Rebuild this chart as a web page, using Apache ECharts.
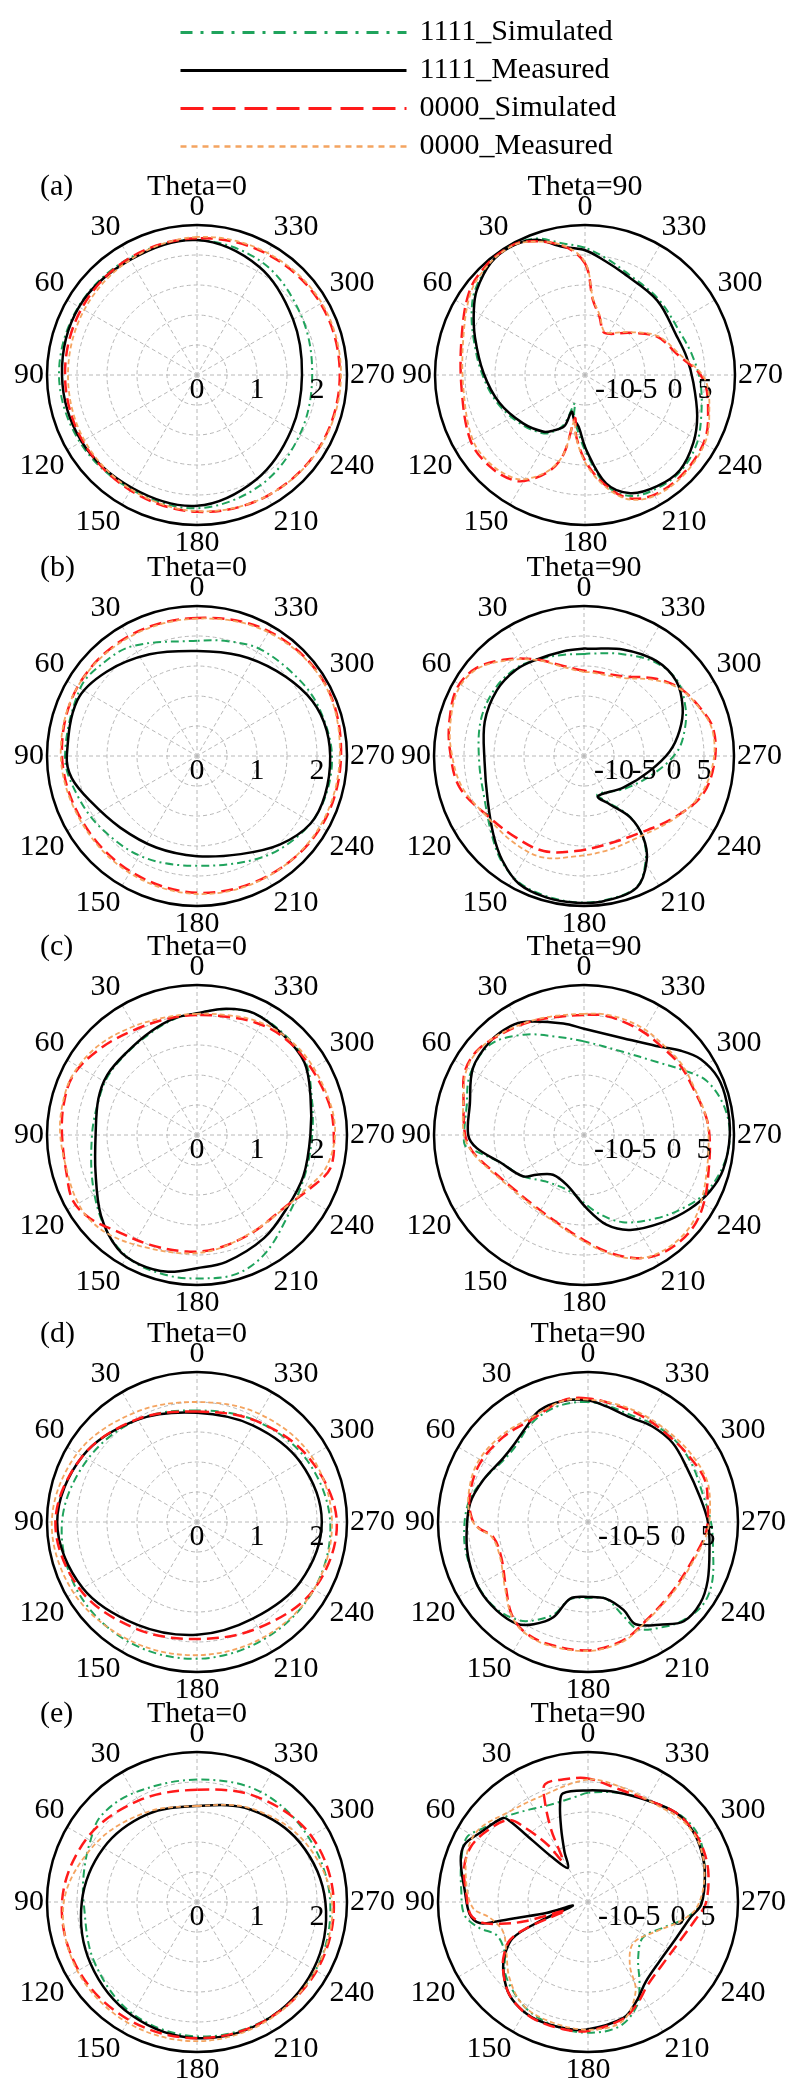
<!DOCTYPE html>
<html><head><meta charset="utf-8">
<script src="https://cdn.jsdelivr.net/npm/echarts@6/dist/echarts.min.js"></script>
<style>html,body{margin:0;padding:0;background:#fff}#c{width:792px;height:2085px}</style>
</head><body><div id="c"></div>
<script>
// ---------- labels ----------
const seriesNames = ['1111_Simulated', '1111_Measured', '0000_Simulated', '0000_Measured'];
const panelLetters = ['(a)', '(b)', '(c)', '(d)', '(e)'];
const thetaTitles = ['Theta=0', 'Theta=90'];
const angleTicks = [0, 30, 60, 90, 120, 150, 180, 210, 240, 270, 300, 330];
const leftRadiusLabels = [0, 1, 2];          // Theta=0 panels, linear scale 0..2.5
const rightRadiusLabels = [-10, -5, 0, 5];   // Theta=90 panels, dB scale -15..10

// ---------- data: [angle(deg), value] in drawing order (closed curves) ----------
// (a) Theta=0
const a0_sim1111 = [[0,2.25],[30,2.25],[60,2.28],[90,2.3],[120,2.25],[150,2.2],[180,2.22],[210,2.12],[240,1.98],[270,1.92],[300,2.0],[330,2.17]];
const a0_meas1111 = [[0,2.25],[30,2.22],[60,2.27],[90,2.25],[120,2.22],[150,2.17],[180,2.18],[210,2.0],[240,1.82],[270,1.75],[300,1.85],[330,2.08]];
const a0_sim0000 = [[0,2.28],[30,2.25],[60,2.22],[90,2.2],[120,2.2],[150,2.22],[180,2.28],[210,2.33],[240,2.37],[270,2.38],[300,2.38],[330,2.33]];
const a0_meas0000 = [[0,2.3],[30,2.22],[60,2.17],[90,2.15],[120,2.17],[150,2.2],[180,2.27],[210,2.33],[240,2.38],[270,2.4],[300,2.4],[330,2.35]];
// (a) Theta=90
const a90_sim1111 = [[0,6.2],[10,7.3],[20,9.2],[30,9.8],[40,9.5],[52,8.2],[60,6.8],[71,4.7],[89,2.2],[108,0.3],[128,-1.6],[144,-3.0],[150,-4.0],[157,-6],[160,-10],[165,-8],[173,-5.5],[181,-2],[191,3.8],[201,6.6],[213,7.4],[225,7.6],[238,6.9],[250,5.6],[266,4.3],[280,3.2],[293,2.4],[316,2.6],[339,3.5],[350,4.8]];
const a90_meas1111 = [[0,5.8],[10,6.7],[20,9.0],[30,9.7],[40,9.4],[52,7.9],[60,6.4],[71,4.4],[89,1.9],[108,0],[128,-1.9],[144,-3.3],[150,-4.3],[158,-5.8],[160,-8.5],[166,-7.4],[173,-6.3],[181,-2.5],[191,3.4],[201,6.1],[213,7.1],[225,7.4],[238,6.3],[250,4.9],[266,3.1],[280,2.2],[293,1.6],[316,2.3],[339,3.1],[350,4.3]];
const a90_sim0000 = [[0,3.6],[10,6.9],[25,9.5],[33,9.8],[42,9.6],[54,8.8],[73,6.5],[97,5.7],[120,7.0],[134,7.0],[146,6.2],[152,4.8],[160,1.9],[165,-1.5],[167,-7.6],[172,-4.6],[181,-0.3],[191,3.9],[200,6.9],[211,8.1],[225,8.2],[240,7.8],[251,6.7],[268,4.7],[283,0.7],[298,-1.4],[313,-4.7],[329,-7.0],[337,-7.2],[346,-5.0],[354,-2.4]];
const a90_meas0000 = [[0,3.8],[10,7.0],[25,9.4],[33,9.7],[42,9.4],[54,8.5],[73,6.2],[97,5.4],[120,6.6],[134,6.6],[146,5.8],[152,4.5],[160,1.7],[165,-1.5],[167,-7.2],[172,-4.4],[181,0],[191,4.2],[200,7.1],[211,8.3],[225,8.4],[240,8.0],[251,6.9],[268,5.0],[283,1.0],[298,-1.2],[313,-4.5],[329,-6.8],[337,-7.0],[346,-4.8],[354,-2.2]];
// (b) Theta=0
const b0_sim1111 = [[0,1.92],[30,2.12],[45,2.2],[60,2.25],[90,2.2],[108,2.1],[127,2.0],[152,1.91],[180,1.83],[212,2.0],[233,2.16],[250,2.24],[270,2.25],[290,2.19],[306,2.13],[329,2.07],[345,1.98]];
const b0_meas1111 = [[0,1.75],[25,1.87],[47,2.06],[65,2.2],[90,2.17],[100,2.12],[113,1.93],[133,1.75],[156,1.67],[180,1.67],[204,1.79],[223,2.02],[239,2.2],[253,2.23],[270,2.22],[285,2.19],[299,2.1],[317,1.94],[337,1.82]];
const b0_sim0000 = [[0,2.3],[30,2.3],[60,2.3],[90,2.25],[120,2.2],[150,2.22],[180,2.28],[210,2.32],[240,2.38],[270,2.4],[300,2.45],[330,2.4]];
const b0_meas0000 = [[0,2.29],[30,2.28],[60,2.3],[90,2.27],[120,2.22],[150,2.25],[180,2.3],[210,2.33],[240,2.36],[270,2.38],[300,2.44],[330,2.38]];
// (b) Theta=90
const b90_sim1111 = [[0,2.0],[11,2.2],[26,2.9],[38,3.5],[53,3.6],[71,3.2],[93,2.5],[115,3.2],[131,5.3],[142,7.3],[153,8.7],[165,9.2],[177,9.4],[188,9.3],[202,8.5],[211,5.0],[216,1.6],[217,-2.4],[208,-6.2],[199,-8.2],[231,-6.3],[257,-2.8],[273,0.6],[285,2.4],[296,3.8],[309,5.0],[323,4.6],[340,3.1],[357,2.1]];
const b90_meas1111 = [[0,2.9],[11,2.8],[26,2.9],[38,3.3],[53,3.2],[71,2.5],[93,1.6],[115,2.7],[131,5.0],[142,7.1],[153,8.9],[165,9.4],[177,9.5],[188,9.4],[202,8.6],[211,5.3],[216,1.8],[217,-2.2],[208,-5.9],[199,-7.9],[231,-6.6],[257,-3.8],[273,-0.7],[285,1.5],[296,3.3],[309,4.8],[323,4.9],[340,3.9],[357,2.9]];
const b90_sim0000 = [[0,-0.8],[13,0.4],[26,2.9],[39,5.7],[51,8.2],[62,9.0],[75,8.2],[87,7.4],[104,6.4],[123,3.8],[140,2.7],[157,2.2],[175,0.9],[194,0.2],[214,0.7],[235,3.1],[252,5.8],[268,6.8],[282,7.0],[293,5.9],[305,4.6],[317,2.6],[334,-0.2],[356,-0.8]];
const b90_meas0000 = [[0,-1.0],[13,0.2],[26,2.8],[39,5.5],[51,8.0],[62,8.7],[75,8.0],[87,7.2],[104,6.0],[123,4.0],[140,3.6],[157,3.3],[175,1.8],[194,1.2],[214,1.3],[235,3.3],[252,5.5],[268,6.6],[282,6.8],[293,5.8],[305,4.5],[317,2.3],[334,-0.5],[356,-1.0]];
// (c) Theta=0
const c0_sim1111 = [[0,2.03],[11,1.97],[24,1.87],[40,1.8],[56,1.78],[70,1.74],[90,1.75],[117,1.94],[137,2.2],[153,2.36],[168,2.39],[180,2.39],[195,2.41],[209,2.29],[227,2.04],[249,1.92],[270,1.92],[289,2.02],[304,2.18],[319,2.22],[335,2.24],[347,2.15]];
const c0_meas1111 = [[0,2.03],[11,1.98],[24,1.89],[40,1.81],[56,1.8],[70,1.75],[90,1.69],[110,1.8],[130,2.09],[145,2.31],[156,2.36],[168,2.33],[180,2.22],[193,2.17],[213,2.05],[231,1.93],[249,1.9],[270,1.89],[289,2.0],[304,2.16],[319,2.2],[335,2.24],[347,2.16]];
const c0_sim0000 = [[0,2.0],[15,2.0],[31,2.04],[48,2.16],[64,2.29],[77,2.28],[90,2.25],[107,2.27],[118,2.34],[128,2.26],[140,2.09],[157,1.99],[175,1.95],[190,1.92],[210,1.87],[230,1.89],[245,2.09],[256,2.29],[270,2.28],[284,2.26],[304,2.2],[320,2.17],[333,2.11],[346,2.03]];
const c0_meas0000 = [[0,2.02],[15,2.03],[31,2.1],[48,2.22],[64,2.3],[77,2.3],[90,2.28],[107,2.25],[118,2.28],[128,2.28],[140,2.2],[157,2.05],[175,1.98],[190,1.93],[210,1.86],[230,1.9],[245,2.05],[256,2.22],[270,2.3],[284,2.28],[304,2.24],[320,2.2],[333,2.14],[346,2.06]];
// (c) Theta=90
const c90_sim1111 = [[0,0.6],[15.5,2.0],[31,4.5],[46,6.7],[62,6.5],[77,5.1],[90,5.0],[95,4.9],[98,3.5],[108,-0.3],[124,-2.7],[141,-5.0],[166,-5.3],[189,-2.0],[204,0.9],[221,3.4],[234,5.6],[245,7.5],[258,8.8],[270,9.3],[282,8.8],[294,7.3],[303,4.8],[315,2.2],[335,0.3]];
const c90_meas1111 = [[0,2.7],[10.5,3.9],[27,6.2],[34,6.9],[45,7.1],[59,6.6],[75,4.7],[90,4.3],[97,3.0],[108,-0.3],[124,-2.7],[130,-4.7],[142,-6.6],[161,-6.2],[182,-2.8],[194,0.4],[206,2.6],[222,4.6],[235,6.5],[246,8.0],[256,8.9],[270,9.3],[283,9.4],[293,9.3],[303,8.2],[311,6.4],[321,4.1],[338,2.4]];
const c90_sim0000 = [[0,5.0],[13,5.2],[25.5,5.9],[40,6.8],[52,7.7],[62,7.5],[73,6.0],[90,4.8],[99,3.7],[110,1.6],[127,-0.2],[144,-0.6],[162,0.2],[178,2.2],[191,4.8],[202,7.1],[211,8.4],[222,8.9],[232,8.7],[242,7.8],[254,6.6],[267,6.0],[278,5.6],[293,4.8],[306,4.8],[318,4.6],[330,4.8],[341,5.0],[351,5.2]];
const c90_meas0000 = [[0,5.2],[13,5.4],[25.5,6.0],[40,6.9],[52,7.6],[62,7.3],[73,6.0],[90,5.0],[99,3.8],[110,1.8],[127,0],[144,-0.4],[162,0.4],[178,2.4],[191,5.0],[202,7.2],[211,8.2],[222,8.5],[232,8.2],[242,7.3],[254,6.3],[267,5.8],[278,5.6],[293,5.0],[306,5.1],[318,5.0],[330,5.3],[341,5.4],[351,5.4]];
// (d) Theta=0
const d0_sim1111 = [[0,1.86],[30,1.97],[60,2.1],[90,2.25],[120,2.3],[150,2.3],[180,2.28],[210,2.25],[240,2.25],[270,2.22],[300,2.1],[330,1.95]];
const d0_meas1111 = [[0,1.82],[30,1.97],[60,2.2],[90,2.33],[120,2.2],[150,1.98],[180,1.88],[210,1.86],[240,1.99],[270,2.08],[300,1.99],[330,1.86]];
const d0_sim0000 = [[0,1.84],[30,1.98],[60,2.2],[90,2.36],[120,2.25],[150,2.05],[180,1.95],[210,2.04],[240,2.25],[270,2.33],[300,2.15],[330,1.95]];
const d0_meas0000 = [[0,2.0],[30,2.1],[60,2.3],[90,2.42],[120,2.37],[150,2.27],[180,2.22],[210,2.22],[240,2.25],[270,2.25],[300,2.2],[330,2.08]];
// (d) Theta=90
const d90_sim1111 = [[0,5.0],[12,5.0],[23,4.5],[33,3.6],[43,2.5],[53,2.4],[68,3.8],[81,5.2],[97,5.8],[109,6.0],[122,6.2],[134,6.0],[145,5.0],[152,3.5],[160,1.3],[167,-1.8],[180,-2.3],[193,-1.9],[201,2.0],[205,4.7],[216,6.6],[224,7.8],[234,8.6],[244,8.0],[258,6.3],[270,5.5],[283,4.7],[299,4.8],[313,4.9],[326,4.6],[338,4.2],[351,4.7]];
const d90_meas1111 = [[0,5.3],[11.7,5.6],[23.4,5.3],[33,3.9],[43,2.9],[53,2.7],[68,3.8],[81,4.9],[97,5.4],[109,5.9],[122,6.3],[134,6.2],[145,5.7],[152,4.3],[160,1.9],[167,-1.9],[180,-2.5],[193,-1.9],[202,0.8],[205,3.8],[216,6.1],[224,8.0],[234,8.1],[244,7.2],[258,5.7],[270,5.0],[283,4.1],[299,3.8],[313,4.3],[326,4.2],[338,3.8],[351,4.5]];
const d90_sim0000 = [[0,5.6],[11.6,5.7],[28,4.5],[45,5.0],[62,5.5],[78,5.2],[88,4.4],[93,3.3],[99,1.0],[112,0.6],[128,2.4],[140,4.9],[149,6.1],[161,6.4],[180,6.4],[196,5.6],[208,4.3],[231,3.2],[254,3.8],[266,4.8],[279,5.2],[290,5.7],[303,5.1],[316,4.7],[332,4.8],[346,5.0]];
const d90_meas0000 = [[0,5.4],[11.6,5.6],[28,4.8],[45,5.4],[62,5.9],[78,5.4],[88,4.5],[93,3.4],[99,1.2],[112,0.8],[128,2.6],[140,5.0],[149,6.2],[161,6.6],[180,6.5],[196,5.8],[208,4.4],[231,3.4],[254,4.0],[266,5.0],[279,5.6],[290,6.0],[303,5.6],[316,5.2],[332,5.1],[346,5.2]];
// (e) Theta=0
const e0_sim1111 = [[0,2.04],[30,2.1],[48,2.15],[60,2.05],[75,1.95],[90,1.89],[120,1.98],[150,2.15],[180,2.24],[210,2.27],[240,2.28],[270,2.22],[300,2.15],[330,2.12]];
const e0_meas1111 = [[0,1.6],[30,1.68],[60,1.8],[90,1.92],[120,2.05],[150,2.18],[180,2.27],[210,2.28],[240,2.24],[270,2.14],[300,1.98],[330,1.78]];
const e0_sim0000 = [[0,1.87],[30,1.95],[60,2.12],[90,2.25],[120,2.28],[150,2.27],[180,2.27],[210,2.28],[240,2.3],[270,2.28],[300,2.2],[330,2.02]];
const e0_meas0000 = [[0,1.6],[30,1.72],[60,1.95],[90,2.22],[120,2.3],[150,2.32],[180,2.32],[210,2.3],[240,2.28],[270,2.25],[300,2.05],[330,1.8]];
// (e) Theta=90
const e90_sim1111 = [[0,3.2],[6,2.7],[21.5,2.4],[32,3.2],[43.6,4.7],[55,6.4],[62,7.9],[72,7.2],[85,6.2],[96,5.7],[103.5,3.6],[110,1.2],[121,1.2],[130,3.1],[140,4.4],[152,5.7],[166,6.4],[180,6.8],[194,6.4],[205,4.2],[212,1.2],[222,-2.5],[237,-4.1],[251,-1.8],[261,1.6],[270,3.9],[288,5.4],[301.5,6.5],[313.6,6.1],[328.5,4.7],[344,3.9]];
const e90_meas1111 = [[0,3.6],[13,3.6],[16,1.9],[20,-1.9],[25,-5.7],[30.5,-8.4],[38.5,-5.6],[42,-1.3],[44,3.7],[45.3,4.9],[57.5,6.4],[65,7.7],[72,7.3],[85,5.6],[96,4.8],[101,3.4],[102,0.6],[102.6,-2.8],[104.8,-7.8],[103.7,-12.4],[111.8,-6.3],[115.6,-1.1],[122.3,1.4],[127.8,2.9],[138,5.0],[147,6.0],[156,6.4],[169,6.4],[179,6.3],[197,5.2],[206,3.4],[216,1.4],[230,0.5],[248,0.9],[261,2.2],[269,3.9],[283,5.0],[294,5.7],[304,6.1],[315,5.9],[328.5,4.7],[345.6,3.9]];
const e90_sim0000 = [[0,5.6],[10,5.8],[20,5.9],[23,3.5],[27,-1.5],[31.6,-7.0],[35,-3.5],[40,1.0],[44,4.0],[55,5.6],[65,6.6],[75,6.4],[85,5.4],[96,4.7],[101,3.0],[104,0],[107,-4],[111,-11],[113,-4],[116,-0.5],[122,1.5],[128,3.0],[138,5.0],[147,6.0],[156,6.5],[169,6.6],[180,6.5],[197,5.3],[206,3.8],[216,2.0],[230,1.2],[248,1.7],[261,3.2],[269,4.6],[283,5.6],[294,6.1],[304,6.2],[315,5.9],[328,4.8],[345,4.5]];
const e90_meas0000 = [[0,5.4],[26.4,4.3],[42.5,5.1],[55.7,6.8],[65.8,6.9],[80.4,5.6],[93,4.2],[99,1.6],[109,0],[121,0.9],[134,3.2],[147.7,5.3],[162,5.9],[180,6.3],[196,5.7],[208,1.9],[213.6,-2.4],[227.7,-4.8],[246.8,-2.6],[258,0.6],[266.8,3.1],[281.6,4.8],[297.2,5.9],[310.3,5.8],[324.9,4.8],[343,4.9]];

// ---------- layout & style ----------
const FONT = 'Liberation Serif';
const R = 150;
const rows = [
  { cy: 375,  cxL: 197, cxR: 585, left: [a0_sim1111, a0_meas1111, a0_sim0000, a0_meas0000], right: [a90_sim1111, a90_meas1111, a90_sim0000, a90_meas0000] },
  { cy: 756,  cxL: 197, cxR: 584, left: [b0_sim1111, b0_meas1111, b0_sim0000, b0_meas0000], right: [b90_sim1111, b90_meas1111, b90_sim0000, b90_meas0000] },
  { cy: 1135, cxL: 197, cxR: 584, left: [c0_sim1111, c0_meas1111, c0_sim0000, c0_meas0000], right: [c90_sim1111, c90_meas1111, c90_sim0000, c90_meas0000] },
  { cy: 1522, cxL: 197, cxR: 588, left: [d0_sim1111, d0_meas1111, d0_sim0000, d0_meas0000], right: [d90_sim1111, d90_meas1111, d90_sim0000, d90_meas0000] },
  { cy: 1902, cxL: 197, cxR: 588, left: [e0_sim1111, e0_meas1111, e0_sim0000, e0_meas0000], right: [e90_sim1111, e90_meas1111, e90_sim0000, e90_meas0000] }
];
const curveStyles = [
  { stroke: '#1fa35c', lineWidth: 2, lineDash: [8, 4, 2, 4] },
  { stroke: '#000000', lineWidth: 2.5, lineDash: null },
  { stroke: '#ff1a1a', lineWidth: 2.5, lineDash: [12, 6] },
  { stroke: '#f4a460', lineWidth: 1.8, lineDash: [5, 3] }
];
const legendLineStyles = [
  { color: '#1fa35c', width: 3, type: [12, 8, 3, 8] },
  { color: '#000000', width: 3, type: 'solid' },
  { color: '#ff1a1a', width: 3, type: [23, 9] },
  { color: '#f4a460', width: 2.5, type: [6, 5] }
];
const gridStyle = { color: '#b8b8b8', width: 1, type: [4, 3] };
const labelText = { color: '#000', fontSize: 30, fontFamily: FONT };

const polar = [], angleAxis = [], radiusAxis = [], series = [], title = [];

// legend-only line series (no data) so legend icons are dashed lines
seriesNames.forEach((n, k) => {
  series.push({ type: 'line', name: n, coordinateSystem: 'polar', polarIndex: 0, data: [],
    symbol: 'none', lineStyle: legendLineStyles[k], itemStyle: { color: legendLineStyles[k].color } });
});

let idx = 0;
rows.forEach((row, r) => {
  title.push({ text: panelLetters[r], left: 40, top: row.cy - 203, padding: 0,
    textStyle: Object.assign({ fontWeight: 'normal', lineHeight: 30 }, labelText) });
  [0, 1].forEach(col => {
    const cx = col === 0 ? row.cxL : row.cxR;
    const isDb = col === 1;
    const rMin = isDb ? -15 : 0, rMax = isDb ? 10 : 2.5, rInt = isDb ? 5 : 0.5;
    const shown = isDb ? rightRadiusLabels : leftRadiusLabels;
    title.push({ text: thetaTitles[col], left: cx, top: row.cy - 203, textAlign: 'center', padding: 0,
      textStyle: Object.assign({ fontWeight: 'normal', lineHeight: 30 }, labelText) });
    const main = idx * 2, helper = idx * 2 + 1;
    polar.push({ center: [cx, row.cy], radius: R });
    polar.push({ center: [cx, row.cy], radius: R });
    angleAxis.push({
      polarIndex: main, type: 'value', min: 0, max: 360, interval: 30,
      startAngle: 90, clockwise: false,
      axisLine: { show: true, lineStyle: { color: '#000', width: 2.5 } },
      axisTick: { show: false },
      axisLabel: Object.assign({ margin: 3, formatter: v => angleTicks.indexOf(v) >= 0 ? String(v) : '' }, labelText),
      splitLine: { show: true, lineStyle: gridStyle }
    });
    radiusAxis.push({
      polarIndex: main, type: 'value', min: rMin, max: rMax, interval: rInt,
      axisLine: { show: false }, axisTick: { show: false }, axisLabel: { show: false },
      splitLine: { show: true, lineStyle: gridStyle }
    });
    angleAxis.push({
      polarIndex: helper, type: 'value', min: 0, max: 360, startAngle: 0, clockwise: false,
      axisLine: { show: false }, axisTick: { show: false }, axisLabel: { show: false }, splitLine: { show: false }
    });
    radiusAxis.push({
      polarIndex: helper, type: 'value', min: rMin, max: rMax, interval: rInt, z: 5,
      axisLine: { show: false }, axisTick: { show: false }, splitLine: { show: false },
      axisLabel: Object.assign({ margin: 0, verticalAlign: 'top', hideOverlap: false,
        formatter: v => shown.some(s => Math.abs(s - v) < 1e-9) ? String(Math.round(v)) : '' }, labelText)
    });
    const sets = col === 0 ? row.left : row.right;
    sets.forEach((arr, k) => {
      const pts = arr.map(p => [p[1], p[0]]); // [radius value, angle]
      const st = curveStyles[k];
      series.push({
        type: 'custom', name: seriesNames[k], coordinateSystem: 'polar', polarIndex: main,
        data: pts, z: 3 + k, silent: true, animation: false,
        renderItem: (params, api) => {
          if (params.dataIndex !== 0) return null;
          const xy = pts.map(d => api.coord(d).slice(0, 2));
          return {
            type: 'polygon', silent: true,
            shape: { points: xy, smooth: 0.35 },
            style: { fill: 'none', stroke: st.stroke, lineWidth: st.lineWidth, lineDash: st.lineDash }
          };
        }
      });
    });
    idx++;
  });
});

const chart = echarts.init(document.getElementById('c'), null, { renderer: 'canvas' });
chart.setOption({
  backgroundColor: '#fff',
  animation: false,
  title: title,
  legend: {
    orient: 'vertical', left: 174, top: 12, itemWidth: 226, itemHeight: 14, itemGap: 7,
    data: seriesNames.map((n, k) => ({ name: n, lineStyle: legendLineStyles[k], itemStyle: { opacity: 0 } })),
    itemStyle: { opacity: 0 },
    textStyle: Object.assign({ lineHeight: 31, padding: [0, 0, 0, 8] }, labelText),
    selectedMode: false
  },
  polar: polar, angleAxis: angleAxis, radiusAxis: radiusAxis, series: series
});
</script></body></html>
